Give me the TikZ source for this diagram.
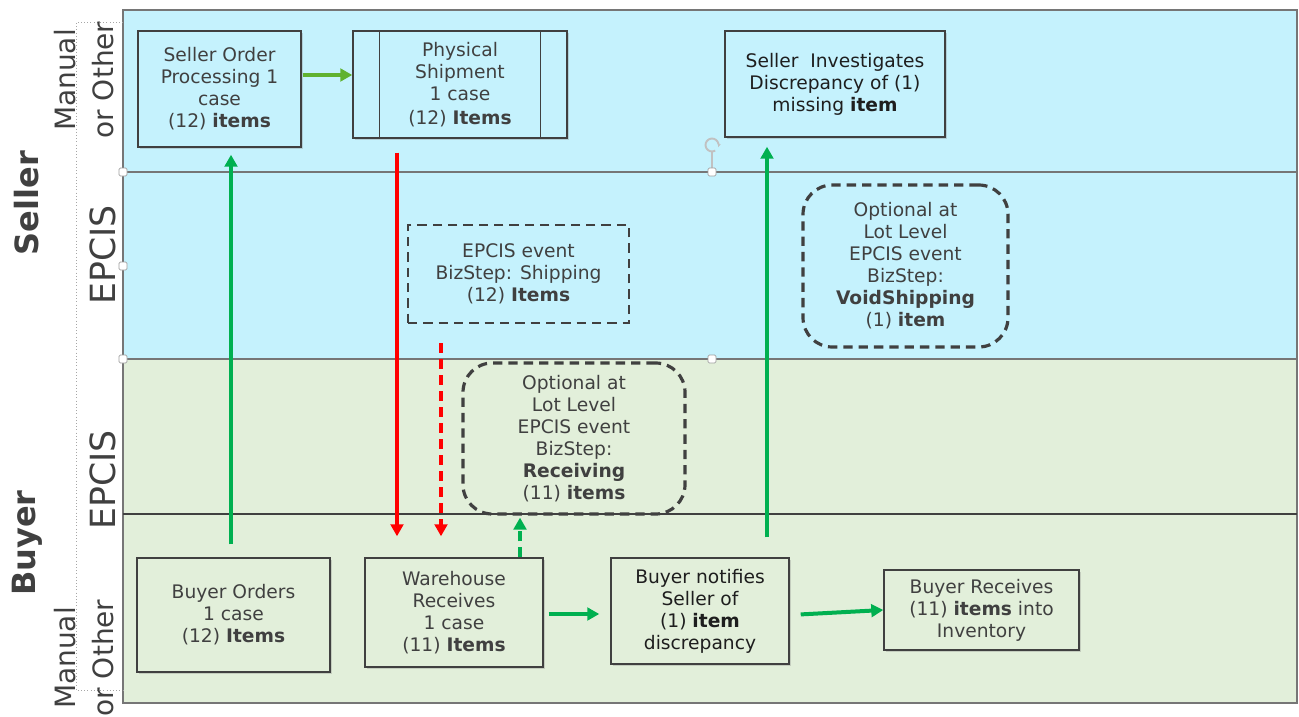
\documentclass[tikz,border=0pt]{standalone}
\usepackage{fontspec}
\setmainfont{DejaVu Sans}
\usetikzlibrary{arrows.meta,shadows}

\definecolor{sellerfill}{RGB}{197,242,253}
\definecolor{buyerfill}{RGB}{226,239,218}
\definecolor{txtgray}{RGB}{64,64,64}
\definecolor{darktxt}{RGB}{30,30,30}
\definecolor{linegray}{RGB}{118,118,118}
\definecolor{flowgreen}{RGB}{0,176,80}
\definecolor{lightgreen}{RGB}{96,178,48}
\definecolor{flowred}{RGB}{255,0,0}

\tikzset{
stepbox/.style={draw=txtgray, line width=1.1pt, align=center, text=txtgray,
  font=\fontsize{14}{16.5}\selectfont, inner sep=0pt,
  drop shadow={opacity=0.3, shadow xshift=1.8pt, shadow yshift=-1.8pt}},
eventbox/.style={draw=txtgray, line width=1.8pt, dash pattern=on 7pt off 4.5pt,
  align=center, text=txtgray, font=\fontsize{14}{16.5}\selectfont, inner sep=0pt},
optbox/.style={eventbox, line width=2.4pt, rounded corners=22pt},
flowarrow/.style={line width=3pt, -{Triangle[length=9pt,width=9.5pt]}},
lanetitle/.style={rotate=90, text=txtgray, font=\fontsize{24}{28}\selectfont\bfseries},
lanename/.style={rotate=90, text=txtgray, align=center, font=\fontsize{21}{28.5}\selectfont},
handle/.style={draw=linegray!70, fill=white, line width=0.5pt, minimum size=6pt,
  inner sep=0pt, rounded corners=1pt}}
\tikzset{every picture/.style={line width=0.75pt}}

\begin{document}
\begin{tikzpicture}[x=0.75pt,y=0.75pt,yscale=-1,xscale=1]
\useasboundingbox (0,0) rectangle (1299,717);

%Shape: Lanes
\fill [sellerfill] (123,10) rectangle (1297,359) ;
\fill [buyerfill] (123,359) rectangle (1297,703) ;
\draw [linegray, line width=1.6pt] (123,10) rectangle (1297,703) ;
\draw [linegray, line width=1.6pt] (123,172) -- (1297,172) ;
\draw [linegray, line width=1.6pt] (123,359) -- (1297,359) ;
\draw [txtgray, line width=0.8pt] (123,514) -- (1297,514) ;
\draw [gray!70, line width=0.4pt, dotted] (123,22) -- (76,22) -- (76,690) -- (123,690) ;

% Text Node
\draw (27,203) node [lanetitle] (seller) {Seller};
% Text Node
\draw (27,543) node [lanetitle] (buyer) {Buyer};
% Text Node
\draw (84,80) node [lanename] (smanual) {Manual\\or Other};
% Text Node
\draw (103,255) node [lanename, font=\fontsize{26}{30}\selectfont] (sepcis) {EPCIS};
% Text Node
\draw (103,480) node [lanename, font=\fontsize{26}{30}\selectfont] (bepcis) {EPCIS};
% Text Node
\draw (84,658) node [lanename] (bmanual) {Manual\\or Other};

%Shape: Rectangle
\draw (219.5,89) node [stepbox, fill=sellerfill, minimum width=122.25pt, minimum height=87pt] (sop)
  {Seller Order\\Processing 1\\case\\(12) \textbf{items}};
%Shape: Predefined Process
\draw (460,84.5) node [stepbox, fill=sellerfill, minimum width=160.5pt, minimum height=80.25pt] (ship)
  {Physical\\Shipment\\1 case\\[2pt](12) \textbf{Items}};
\draw [txtgray, line width=1.1pt] ([xshift=20.25pt]ship.north west) -- ([xshift=20.25pt]ship.south west) ;
\draw [txtgray, line width=1.1pt] ([xshift=-20.25pt]ship.north east) -- ([xshift=-20.25pt]ship.south east) ;
%Shape: Rectangle
\draw (835,84) node [stepbox, fill=sellerfill, text=darktxt, minimum width=165pt, minimum height=79.5pt] (inv)
  {Seller\ \ Investigates\\Discrepancy of (1)\\missing \textbf{item}};
%Shape: Dashed Rectangle
\draw (518.5,274) node [eventbox, minimum width=165.75pt, minimum height=73.5pt] (shipevt)
  {EPCIS event\\BizStep: Shipping\\(12) \textbf{Items}};
%Shape: Dashed Rounded Rectangle
\draw (905.5,266) node [optbox, minimum width=153.75pt, minimum height=121.5pt] (voidevt)
  {Optional at\\Lot Level\\EPCIS event\\BizStep:\\\textbf{VoidShipping}\\(1) \textbf{item}};
%Shape: Dashed Rounded Rectangle
\draw (574,438.5) node [optbox, minimum width=166.5pt, minimum height=113.25pt] (recvevt)
  {Optional at\\Lot Level\\EPCIS event\\BizStep:\\\textbf{Receiving}\\(11) \textbf{items}};
%Shape: Rectangle
\draw (233.5,615) node [stepbox, fill=buyerfill, minimum width=144.75pt, minimum height=85.5pt] (bord)
  {Buyer Orders\\1 case\\(12) \textbf{Items}};
%Shape: Rectangle
\draw (454,612.5) node [stepbox, fill=buyerfill, minimum width=133.5pt, minimum height=81.75pt] (wh)
  {Warehouse\\Receives\\1 case\\(11) \textbf{Items}};
%Shape: Rectangle
\draw (700,611) node [stepbox, fill=buyerfill, text=darktxt, minimum width=133.5pt, minimum height=79.5pt] (notify)
  {Buyer notifies\\Seller of\\(1) \textbf{item}\\discrepancy};
%Shape: Rectangle
\draw (981.5,610) node [stepbox, fill=buyerfill, drop shadow={opacity=0}, minimum width=146.25pt, minimum height=60pt] (brecv)
  {Buyer Receives\\(11) \textbf{items} into\\Inventory};

% Columns and rows of the connectors
\coordinate (colA) at (231,0) ;
\coordinate (colB) at (397,0) ;
\coordinate (colC) at (441,0) ;
\coordinate (colD) at (520,0) ;
\coordinate (colE) at (767,0) ;
\coordinate (rowA) at (0,75) ;
\coordinate (rowB) at (0,614) ;
\coordinate (rowC) at (0,615) ;

%Straight Lines
\draw [flowarrow, lightgreen, line width=2.6pt, shorten <=0.75pt] (sop.east |- rowA) -- (ship.west |- rowA) ;
\draw [flowarrow, flowgreen, shorten <=9.75pt, shorten >=5.25pt] (bord.north -| colA) -- (sop.south -| colA) ;
\draw [flowarrow, flowred, shorten <=10.5pt, shorten >=15.75pt] (ship.south -| colB) -- (wh.north -| colB) ;
\draw [flowarrow, flowred, dash pattern=on 7.5pt off 4.5pt, shorten <=14.25pt, shorten >=15.75pt] (shipevt.south -| colC) -- (wh.north -| colC) ;
\draw [flowarrow, flowgreen, line width=2.6pt, dash pattern=on 7.5pt off 4.5pt, shorten >=1.5pt] (wh.north -| colD) -- (recvevt.south -| colD) ;
\draw [flowarrow, flowgreen, shorten <=15pt, shorten >=6.75pt] (notify.north -| colE) -- (inv.south -| colE) ;
\draw [flowarrow, flowgreen, shorten <=3.75pt, shorten >=8.25pt] (wh.east |- rowB) -- (notify.west |- rowB) ;
\draw [flowarrow, flowgreen, shorten <=8.25pt] (notify.east |- rowC) -- (brecv.west) ;

%Shape: Selection handles
\draw [linegray!45, line width=0.8pt] (712,152) -- (712,172) ;
\draw [linegray!45, line width=1.4pt, -{Stealth[length=3pt]}] (712,145) ++(60:6.5) arc [start angle=60, end angle=380, radius=6.5] ;
\foreach \p [count=\i] in {(123,172),(123,266),(123,359),(712,172),(712,359)}
  \draw \p node [handle] (h\i) {} ;

\end{tikzpicture}
\end{document}
